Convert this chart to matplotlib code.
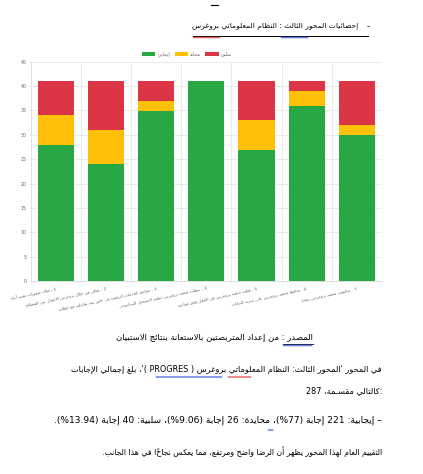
import re
import numpy as np
import matplotlib
matplotlib.use("Agg")
import matplotlib.pyplot as plt
from matplotlib.lines import Line2D

# ---------------- data ----------------
categories = [
    "1 - هناك صعوبات تقنية أثناء",
    "2 - يمكن من خلال بروغرس الاتصال بين المصالح",
    "3 - تساهم الخدمات الرقمية في خلق بيئة تفاعلية مع الطلبة",
    "4 - سهلت منصة بروغرس عملية التسجيل البيداغوجي",
    "5 - قللت منصة بروغرس من التنقل وفق مواعيد",
    "6 - تحافظ منصة بروغرس على سرية البيانات",
    "7 - ساهمت منصة بروغرس رقميا",
]
positive = [28, 24, 35, 41, 27, 36, 30]
neutral = [6, 7, 2, 0, 6, 3, 2]
negative = [7, 10, 4, 0, 8, 2, 9]
series_names = ["إيجابي", "محايد", "سلبي"]
y_ticks = list(range(0, 46, 5))

# ---------------- arabic shaping + simple bidi ----------------
DUAL = {'ئ': 0xFE89, 'ب': 0xFE8F, 'ت': 0xFE95, 'ث': 0xFE99, 'ج': 0xFE9D, 'ح': 0xFEA1,
        'خ': 0xFEA5, 'س': 0xFEB1, 'ش': 0xFEB5, 'ص': 0xFEB9, 'ض': 0xFEBD, 'ط': 0xFEC1,
        'ظ': 0xFEC5, 'ع': 0xFEC9, 'غ': 0xFECD, 'ف': 0xFED1, 'ق': 0xFED5, 'ك': 0xFED9,
        'ل': 0xFEDD, 'م': 0xFEE1, 'ن': 0xFEE5, 'ه': 0xFEE9, 'ي': 0xFEF1}
RIGHT = {'آ': 0xFE81, 'أ': 0xFE83, 'ؤ': 0xFE85, 'إ': 0xFE87, 'ا': 0xFE8D, 'ة': 0xFE93,
         'د': 0xFEA9, 'ذ': 0xFEAB, 'ر': 0xFEAD, 'ز': 0xFEAF, 'و': 0xFEED, 'ى': 0xFEEF}
LAMALEF = {'آ': 0xFEF5, 'أ': 0xFEF7, 'إ': 0xFEF9, 'ا': 0xFEFB}
TATWEEL = 'ـ'


def _joins_next(c):
    return c in DUAL or c == TATWEEL


def _is_joinable(c):
    return c in DUAL or c in RIGHT or c == TATWEEL


def shape(s):
    out = []
    i, n = 0, len(s)
    while i < n:
        c = s[i]
        prev = s[i - 1] if i > 0 else ''
        pj = _joins_next(prev)
        if c == 'ل' and i + 1 < n and s[i + 1] in LAMALEF:
            b = LAMALEF[s[i + 1]]
            out.append(chr(b + 1 if pj else b))
            i += 2
            continue
        nxt = s[i + 1] if i + 1 < n else ''
        nj = _is_joinable(nxt)
        if c in DUAL:
            b = DUAL[c]
            if pj and nj:
                out.append(chr(b + 3))
            elif pj:
                out.append(chr(b + 1))
            elif nj:
                out.append(chr(b + 2))
            else:
                out.append(chr(b))
        elif c in RIGHT:
            b = RIGHT[c]
            out.append(chr(b + 1 if pj else b))
        elif c == 'ء':
            out.append(chr(0xFE80))
        else:
            out.append(c)
        i += 1
    return ''.join(out)


MIRROR = {'(': ')', ')': '(', '[': ']', ']': '['}


def ar(s):
    s = shape(s)
    parts = re.split(r'([A-Za-z0-9]+(?:[.,][0-9]+)*)', s)
    out = []
    for k, p in enumerate(parts):
        if k % 2 == 1:
            out.append(p)
        else:
            out.append(''.join(MIRROR.get(ch, ch) for ch in reversed(p)))
    return ''.join(reversed(out))


# ---------------- figure ----------------
W, H = 423, 474
plt.rcParams['font.family'] = ['DejaVu Sans']
fig = plt.figure(figsize=(W / 100, H / 100), dpi=100)
fig.patch.set_facecolor('white')


def fx(x):
    return x / W


def fy(y):
    return 1 - y / H


# chart axes
ax_l, ax_r, ax_t, ax_b = 30.7, 382, 61.7, 281.3
ax = fig.add_axes([fx(ax_l), fy(ax_b), (ax_r - ax_l) / W, (ax_b - ax_t) / H])

GREEN, YELLOW, RED = '#28a745', '#ffc107', '#dc3545'
GRID = '#e8e8e8'
TXT = '#666666'

x = np.arange(len(categories))
pos = np.array(positive)
neu = np.array(neutral)
neg = np.array(negative)
bw = 0.72
ax.bar(x, pos, bw, color=GREEN, label=ar(series_names[0]), zorder=3)
ax.bar(x, neu, bw, bottom=pos, color=YELLOW, label=ar(series_names[1]), zorder=3)
ax.bar(x, neg, bw, bottom=pos + neu, color=RED, label=ar(series_names[2]), zorder=3)

ax.set_xlim(-0.5, len(categories) - 0.5)
ax.set_ylim(0, 45)
ax.set_yticks(y_ticks)
ax.set_yticklabels([str(v) for v in y_ticks], fontsize=3.4, color=TXT)
ax.set_xticks(x)
ax.set_xticklabels([ar(c) for c in categories], rotation=12, ha='right',
                   rotation_mode='anchor', fontsize=3.0, color=TXT)
ax.set_xticks(np.arange(0.5, len(categories) - 0.5, 1.0), minor=True)
ax.tick_params(axis='x', which='major', length=0, pad=3.5)
ax.tick_params(axis='x', which='minor', length=1.5, color=GRID, width=0.6)
ax.tick_params(axis='y', length=1.5, color=GRID, width=0.6, pad=1.5)
ax.grid(axis='y', color=GRID, lw=0.6, zorder=0)
ax.grid(axis='x', which='minor', color=GRID, lw=0.6, zorder=0)
for sp in ['top', 'right']:
    ax.spines[sp].set_visible(False)
for sp in ['left', 'bottom']:
    ax.spines[sp].set_color('#dcdcdc')
    ax.spines[sp].set_linewidth(0.6)

leg = ax.legend(loc='lower center', bbox_to_anchor=(0.445, 1.012), ncol=3, frameon=False,
                fontsize=3.4, handlelength=2.8, handleheight=1.0, handletextpad=0.5,
                columnspacing=0.9, borderaxespad=0)
for t in leg.get_texts():
    t.set_color(TXT)

# ---------------- document text ----------------
renderer = fig.canvas.get_renderer()


def place(s, xr, yc, width, ha='right', fs=8, color='black'):
    t = fig.text(fx(xr), fy(yc), s, ha=ha, va='center', fontsize=fs, color=color)
    if width:
        bb = t.get_window_extent(renderer)
        t.set_fontsize(fs * width / bb.width)
    return t


def squiggle(x0, x1, y, color):
    xs = np.arange(x0, x1 + 0.01, 1.0)
    ys = y + 0.7 * np.where(np.arange(len(xs)) % 2 == 0, -1, 1)
    fig.add_artist(Line2D(fx(xs), fy(ys), color=color, lw=0.5,
                          transform=fig.transFigure))


def hline(x0, x1, y, color='black', lw=0.7):
    fig.add_artist(Line2D([fx(x0), fx(x1)], [fy(y), fy(y)], color=color, lw=lw,
                          transform=fig.transFigure))


# small mark at very top
hline(211, 218, 4.5, lw=0.8)

# heading
place(ar("إحصائيات المحور الثالث : النظام المعلوماتي بروغرس"), 358, 27, 165)
place("-", 370, 26.5, None, fs=6)
hline(193, 368, 35.5, lw=0.7)
squiggle(193, 220, 37.5, '#e03030')
squiggle(281, 308, 37.5, '#3050e0')

# caption
place(ar("المصدر : من إعداد المتربصتين بالاستعانة بنتائج الاستبيان"), 313, 338, 195)
hline(283, 313, 343.5, lw=0.6)
squiggle(283, 312, 345.5, '#3050e0')

# paragraph
p1 = place(ar("في المحور 'المحور الثالث: النظام المعلوماتي بروغرس ( PROGRES )'، بلغ إجمالي الإجابات"),
           382, 369, 309)
squiggle(156, 222, 377, '#3050e0')
squiggle(228, 251, 377, '#e03030')
place("287" + ar("، ") + ar("مقسـمة") + " " + ar("كالتالي") + ":", 382, 391, None,
      fs=p1.get_fontsize())
place(ar("– إيجابية: 221 إجابة (77%)، محايدة: 26 إجابة (9.06%)، سلبية: 40 إجابة (13.94%)."),
      382, 420, 330)
squiggle(268, 273, 430, '#3050e0')
place(ar("التقييم العام لهذا المحور يظهر أن الرضا واضح ومرتفع، مما يعكس نجاحًا في هذا الجانب."),
      382, 452, 280)

fig.savefig("out.png", dpi=100)
